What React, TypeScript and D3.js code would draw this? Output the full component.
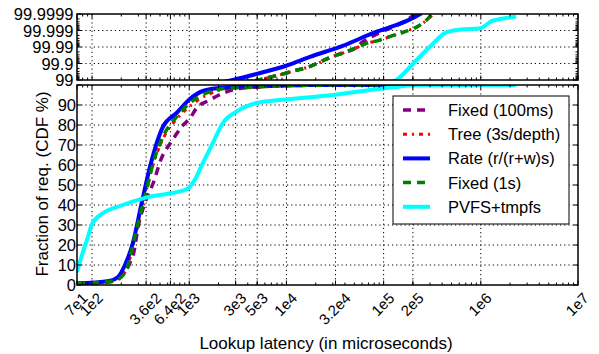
import React from 'react';
import * as d3 from 'd3';

// x axis (log latency, microseconds)
const latencyTicks = [70, 100, 360, 640, 1000, 3000, 5000, 1e4, 3.2e4, 1e5, 2e5, 1e6, 1e7];
const latencyTickLabels = ['7e1', '1e2', '3.6e2', '6.4e2', '1e3', '3e3', '5e3', '1e4', '3.2e4', '1e5', '2e5', '1e6', '1e7'];

// y axes
const cdfTicks = [0, 10, 20, 30, 40, 50, 60, 70, 80, 90, 100];
const cdfTickLabels = ['0', '10', '20', '30', '40', '50', '60', '70', '80', '90', ''];
const tailTicks = [99, 99.9, 99.99, 99.999, 99.9999];
const tailTickLabels = ['99', '99.9', '99.99', '99.999', '99.9999'];

// [latency (us), CDF %]
const fixed100ms = [
  [70, 0.8], [150, 1.5], [185, 3], [245, 11], [268, 16], [299, 29.5], [350, 41], [426, 51],
  [519, 63.5], [658, 71.8], [866, 80], [1015, 83.4], [1190, 88.4], [1630, 92.5], [2233, 95.9],
  [3313, 98.3], [5317, 99], [6740, 99.32], [9230, 99.57], [12200, 99.73], [16100, 99.82],
  [21100, 99.907], [29000, 99.96], [38200, 99.977], [50400, 99.9877], [61300, 99.9952],
  [80900, 99.9981], [107000, 99.9991], [185000, 99.99982], [208000, 99.9999],
];
const tree3s = [
  [70, 0.8], [150, 1.8], [185, 3], [230, 9], [280, 25], [352, 45], [430, 61], [570, 75.5],
  [760, 83.5], [1050, 90], [1600, 95.5], [2500, 98.2], [5000, 99], [6900, 99.33], [9400, 99.58],
  [12500, 99.74], [16500, 99.83], [21500, 99.91], [30000, 99.962], [40000, 99.979],
  [52000, 99.9885], [68000, 99.9941], [93000, 99.99625], [118000, 99.9977], [160000, 99.99875],
  [220000, 99.9994], [280000, 99.99977], [318000, 99.99989],
];
const rateRW = [
  [70, 0.8], [150, 2], [185, 4], [218, 10], [263, 21], [324, 41], [394, 59], [535, 79],
  [741, 86], [1015, 93], [1380, 97], [2064, 98.5], [2807, 99], [4955, 99.573], [10100, 99.868],
  [17400, 99.96], [37900, 99.9915], [84800, 99.99882], [136000, 99.99954], [185000, 99.99978],
  [246000, 99.99991],
];
const fixed1s = [
  [70, 0.8], [150, 1.8], [180, 2.5], [227, 8], [276, 24.5], [350, 44.4], [426, 61], [561, 76],
  [741, 84], [1015, 91], [1507, 96], [2419, 98.3], [5110, 99], [6740, 99.324], [9230, 99.573],
  [12200, 99.731], [16100, 99.818], [21100, 99.907], [29000, 99.96], [38200, 99.977],
  [50400, 99.9877], [66400, 99.99397], [91000, 99.9962], [115000, 99.99766], [158000, 99.99871],
  [217000, 99.99937], [275000, 99.99976], [309000, 99.999885],
];
const pvfsTmpfs = [
  [70, 6.5], [80, 16], [90, 23.5], [100, 30.5], [130, 36], [194, 39.5], [364, 43.8], [938, 47.8],
  [1143, 52.7], [1381, 61], [1750, 71], [2217, 81], [3066, 86.7], [4918, 91], [8540, 92.5],
  [29900, 95], [97800, 98.3], [135000, 99], [199000, 99.893], [297000, 99.99], [441000, 99.9987],
  [604000, 99.99911], [970000, 99.99924], [1320000, 99.999743], [2310000, 99.999852],
];

const seriesNames = ['Fixed (100ms)', 'Tree (3s/depth)', 'Rate (r/(r+w)s)', 'Fixed (1s)', 'PVFS+tmpfs'];

const FONT = '"Liberation Sans", Arial, Helvetica, sans-serif';
const left = 77, right = 578;
const topY0 = 14, topY1 = 80;
const botY0 = 85, botY1 = 285;

const x = d3.scaleLog().domain([70, 1e7]).range([left, right]);
const nines = (p: number) => -Math.log10(1 - p / 100);
const yTop = d3.scaleLinear().domain([2, 6]).range([topY1, topY0]);
const yBot = d3.scaleLinear().domain([0, 100]).range([botY1, botY0]);

const lineBot = d3.line<number[]>().x(d => x(d[0])).y(d => yBot(d[1])).curve(d3.curveMonotoneX);
const lineTop = d3.line<number[]>().x(d => x(d[0])).y(d => yTop(nines(d[1]))).curve(d3.curveMonotoneX);

const series = [
  { name: seriesNames[0], data: fixed100ms, color: '#800080', width: 3.5, dash: '8,6' },
  { name: seriesNames[1], data: tree3s, color: '#ff0000', width: 3, dash: '4,5,2,5' },
  { name: seriesNames[2], data: rateRW, color: '#0000ff', width: 4, dash: null },
  { name: seriesNames[3], data: fixed1s, color: '#008000', width: 3.5, dash: '8,6' },
  { name: seriesNames[4], data: pvfsTmpfs, color: '#00ffff', width: 4, dash: null },
];

// log minor ticks for x
const minorX: number[] = [];
for (let k = 1; k <= 6; k++) {
  for (let m = 2; m <= 9; m++) {
    const v = m * Math.pow(10, k);
    if (v > 70 && v < 1e7) minorX.push(v);
  }
}
// minor ticks for the tail axis (in "nines")
const minorTail: number[] = [];
for (let k = 2; k <= 5; k++) {
  for (let m = 2; m <= 9; m++) minorTail.push(k + 1 - Math.log10(m));
}

const labelWidth = (s: string, fs: number) =>
  s.split('').reduce((a, c) => a + (c === '.' ? 0.278 : 0.556), 0) * fs;

function Panel({ y0, y1, id, children }: any) {
  return (
    <g>
      <defs>
        <clipPath id={id}>
          <rect x={left} y={y0} width={right - left} height={y1 - y0} />
        </clipPath>
      </defs>
      {children}
    </g>
  );
}

export default function App() {
  const xfs = 15;
  const yfs = 16.5;
  const gridStyle = { stroke: '#000', strokeWidth: 1, strokeDasharray: '1.2,3' };
  const innerMajorX = latencyTicks.filter(t => t > 70 && t < 1e7);

  return (
    <svg width={599} height={354} style={{ position: 'absolute', left: 0, top: 0, background: '#fff' }}
      fontFamily={FONT}>
      {/* top panel */}
      <Panel y0={topY0} y1={topY1} id="clipTop">
        {innerMajorX.map(t => (
          <line key={'gt' + t} x1={x(t)} x2={x(t)} y1={topY0} y2={topY1} {...gridStyle} />
        ))}
        {[3, 4, 5].map(v => (
          <line key={'gty' + v} x1={left} x2={right} y1={yTop(v)} y2={yTop(v)} {...gridStyle} />
        ))}
        <g clipPath="url(#clipTop)">
          {series.map(s => (
            <path key={'t' + s.name} d={lineTop(s.data) || ''} fill="none" stroke={s.color}
              strokeWidth={s.width} strokeDasharray={s.dash || undefined} />
          ))}
        </g>
      </Panel>
      {/* bottom panel */}
      <Panel y0={botY0} y1={botY1} id="clipBot">
        {innerMajorX.map(t => (
          <line key={'gb' + t} x1={x(t)} x2={x(t)} y1={botY0} y2={botY1} {...gridStyle} />
        ))}
        {cdfTicks.filter(v => v > 0 && v < 100).map(v => (
          <line key={'gby' + v} x1={left} x2={right} y1={yBot(v)} y2={yBot(v)} {...gridStyle} />
        ))}
        <g clipPath="url(#clipBot)">
          {series.map(s => (
            <path key={'b' + s.name} d={lineBot(s.data) || ''} fill="none" stroke={s.color}
              strokeWidth={s.width} strokeDasharray={s.dash || undefined} />
          ))}
        </g>
      </Panel>

      {/* ticks */}
      {[[topY0, topY1], [botY0, botY1]].map(([a, b], pi) => (
        <g key={'ticks' + pi} stroke="#000" strokeWidth={1}>
          {latencyTicks.map(t => (
            <g key={t}>
              <line x1={x(t)} x2={x(t)} y1={b} y2={b - 4.5} />
              <line x1={x(t)} x2={x(t)} y1={a} y2={a + 4.5} />
            </g>
          ))}
          {minorX.map(t => (
            <g key={'m' + t}>
              <line x1={x(t)} x2={x(t)} y1={b} y2={b - 2.5} />
              <line x1={x(t)} x2={x(t)} y1={a} y2={a + 2.5} />
            </g>
          ))}
        </g>
      ))}
      <g stroke="#000" strokeWidth={1}>
        {cdfTicks.map(v => (
          <g key={'cy' + v}>
            <line x1={left} x2={left + 4.5} y1={yBot(v)} y2={yBot(v)} />
            <line x1={right} x2={right - 4.5} y1={yBot(v)} y2={yBot(v)} />
          </g>
        ))}
        {tailTicks.map(v => (
          <g key={'ty' + v}>
            <line x1={left} x2={left + 4.5} y1={yTop(nines(v))} y2={yTop(nines(v))} />
            <line x1={right} x2={right - 4.5} y1={yTop(nines(v))} y2={yTop(nines(v))} />
          </g>
        ))}
        {minorTail.map(v => (
          <g key={'mt' + v}>
            <line x1={left} x2={left + 2.5} y1={yTop(v)} y2={yTop(v)} />
            <line x1={right} x2={right - 2.5} y1={yTop(v)} y2={yTop(v)} />
          </g>
        ))}
      </g>

      {/* frames */}
      <rect x={left} y={topY0} width={right - left} height={topY1 - topY0} fill="none" stroke="#000" strokeWidth={1.5} />
      <rect x={left} y={botY0} width={right - left} height={botY1 - botY0} fill="none" stroke="#000" strokeWidth={1.5} />

      {/* y tick labels */}
      {tailTicks.map((v, i) => (
        <text key={'tl' + v} x={73.5} y={yTop(nines(v))} textAnchor="end" dominantBaseline="central"
          fontSize={yfs} fill="#000">{tailTickLabels[i]}</text>
      ))}
      {cdfTicks.map((v, i) => (
        <text key={'cl' + v} x={76} y={yBot(v)} textAnchor="end" dominantBaseline="central"
          fontSize={yfs} fill="#000">{cdfTickLabels[i]}</text>
      ))}

      {/* x tick labels, rotated */}
      {latencyTicks.map((t, i) => {
        const lbl = latencyTickLabels[i];
        const w = labelWidth(lbl, xfs);
        const capH = 0.716 * xfs;
        const cx = x(t) - 1;
        const cy = 291.5 + 0.707 * (w + capH) / 2;
        return (
          <text key={'xl' + t} transform={`translate(${cx},${cy}) rotate(-45)`} textAnchor="middle"
            dominantBaseline="central" fontSize={xfs} fill="#000">{lbl}</text>
        );
      })}

      {/* axis titles */}
      <text x={326} y={349} textAnchor="middle" fontSize={17} fill="#000">Lookup latency (in microseconds)</text>
      <text transform="translate(48,184) rotate(-90)" textAnchor="middle" fontSize={17} fill="#000">
        Fraction of req. (CDF %)
      </text>

      {/* legend */}
      <g>
        <rect x={393} y={96} width={176} height={128} fill="#fff" stroke="#000" strokeWidth={1} />
        {series.map((s, i) => {
          const ly = 110 + i * 24.2;
          return (
            <g key={'lg' + s.name}>
              <line x1={403} x2={430} y1={ly} y2={ly} stroke={s.color} strokeWidth={s.width}
                strokeDasharray={s.dash || undefined} />
              <text x={448} y={ly} dominantBaseline="central" fontSize={16.5} fill="#000">{s.name}</text>
            </g>
          );
        })}
      </g>
    </svg>
  );
}
